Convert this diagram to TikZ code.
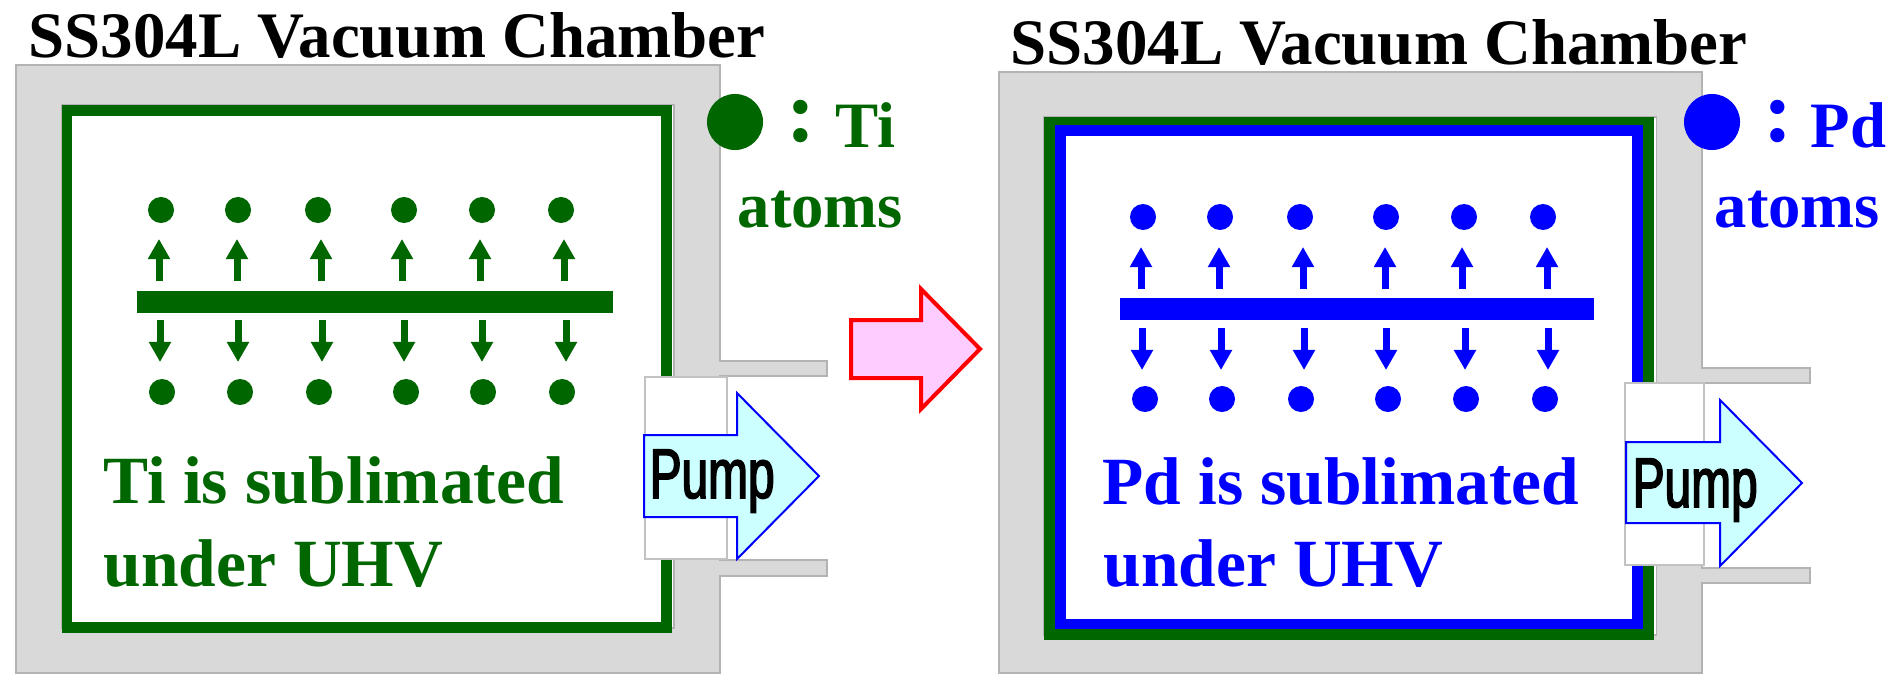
\documentclass[tikz,border=0pt]{standalone}
\usepackage{fontspec}
\usepackage{xcolor}
\usetikzlibrary{arrows.meta}
\setmainfont{Liberation Serif}
\newfontfamily\pumpfont[FakeStretch=0.68,FakeBold=2.2]{Liberation Sans}
\definecolor{tigreen}{HTML}{006600}
\definecolor{pdblue}{HTML}{0000FF}
\definecolor{wallgray}{HTML}{D9D9D9}
\definecolor{walledge}{HTML}{B3B3B3}
\definecolor{pumpcyan}{HTML}{CCFFFF}
\definecolor{stagepink}{HTML}{FFCCFF}
\tikzset{
	wall/.style={draw=walledge,fill=wallgray,line width=0.4pt},
	hole/.style={draw=walledge,fill=white,line width=0.3pt},
	port/.style={draw=walledge!80,fill=white,line width=0.4pt},
	atom/.style={circle,fill=#1,inner sep=0pt,minimum size=0.26cm},
	bigatom/.style={circle,fill=#1,inner sep=0pt,minimum size=0.56cm},
	flight/.style={#1,line width=0.07cm,-{Triangle[length=0.2cm,width=0.21cm]}},
	pumparrow/.style={draw=pdblue,fill=pumpcyan,line width=0.02cm},
	label/.style={anchor=base west,inner sep=0pt,font=\bfseries\fontsize{19.2}{19}\selectfont},
	titlelabel/.style={anchor=base west,inner sep=0pt,font=\bfseries\fontsize{18.45}{19}\selectfont},
	keylabel/.style={anchor=base west,inner sep=0pt,font=\bfseries\fontsize{18.4}{19}\selectfont},
	colonlabel/.style={anchor=base west,inner sep=0pt,font=\bfseries\fontsize{25}{25}\selectfont},
	pumplabel/.style={anchor=base west,inner sep=0pt,font=\pumpfont\fontsize{20}{20}\selectfont}
}
\begin{document}
\begin{tikzpicture}[x=0.01cm,y=-0.01cm]
		\useasboundingbox (0,0) rectangle (1895,673);

		% left chamber
		\draw[wall] (16,65) -- (720,65) -- (720,361) -- (827,361) -- (827,376) -- (720,376) -- (720,560) -- (827,560) -- (827,576) -- (720,576) -- (720,673) -- (16,673) -- cycle;
		\draw[hole] (62,105) rectangle (674,628);
		\fill[tigreen] (62,105) rectangle (672,633);
		\fill[white] (72,116) rectangle (661,622);
		\fill[tigreen] (137,291) rectangle (613,313);

		\foreach \i/\a/\b/\c/\d in {1/161/159/160/162,2/238/237/238/240,3/318/321/322/319,4/404/402/404/406,5/482/480/482/483,6/561/564/566/562}{
			\node[atom=tigreen] (titop\i) at (\a,210) {};
			\node[atom=tigreen] (tibot\i) at (\d,392) {};
			\coordinate (tiupa\i) at (\b,281);
			\coordinate (tiupb\i) at (\b,239);
			\coordinate (tidna\i) at (\c,320);
			\coordinate (tidnb\i) at (\c,362);
			\draw[flight=tigreen] (tiupa\i) -- (tiupb\i);
			\draw[flight=tigreen] (tidna\i) -- (tidnb\i);
		}

		\node[titlelabel] (titlea) at (28,58) {SS304L Vacuum Chamber};
		\node[label,tigreen] (subla) at (103,503) {Ti is sublimated};
		\node[label,tigreen] (uhva) at (103,586) {under UHV};
		\node[bigatom=tigreen] (keya) at (735,122) {};
		\node[colonlabel,tigreen] (cola) at (786,142) {:};
		\node[keylabel,tigreen] (tikey) at (835,147) {Ti};
		\node[keylabel,tigreen] (atomsa) at (737,227) {atoms};

		\draw[port] (645,377) rectangle (727,559);
		\draw[pumparrow] (644,435) -- (737,435) -- (737,393) -- (819,476) -- (737,559) -- (737,517) -- (644,517) -- cycle;
		\node[pumplabel] (pumpa) at (649,498) {Pump};

		% stage arrow
		\draw[draw=red,fill=stagepink,line width=0.04cm] (851,320) -- (921,320) -- (921,289) -- (980,349) -- (921,409) -- (921,378) -- (851,378) -- cycle;

		% right chamber
		\draw[wall] (999,72) -- (1702,72) -- (1702,368) -- (1810,368) -- (1810,383) -- (1702,383) -- (1702,568) -- (1810,568) -- (1810,583) -- (1702,583) -- (1702,673) -- (999,673) -- cycle;
		\draw[hole] (1044,117) rectangle (1656,635);
		\fill[tigreen] (1044,117) rectangle (1654,640);
		\fill[pdblue] (1055,125) rectangle (1643,629);
		\fill[white] (1066,136) rectangle (1632,619);
		\fill[pdblue] (1120,298) rectangle (1594,320);

		\foreach \i/\a/\b/\c/\d in {1/1143/1141/1142/1145,2/1220/1219/1221/1222,3/1300/1303/1304/1301,4/1386/1385/1386/1388,5/1464/1462/1465/1466,6/1543/1547/1548/1545}{
			\node[atom=pdblue] (pdtop\i) at (\a,217) {};
			\node[atom=pdblue] (pdbot\i) at (\d,399) {};
			\coordinate (pdupa\i) at (\b,289);
			\coordinate (pdupb\i) at (\b,247);
			\coordinate (pddna\i) at (\c,328);
			\coordinate (pddnb\i) at (\c,370);
			\draw[flight=pdblue] (pdupa\i) -- (pdupb\i);
			\draw[flight=pdblue] (pddna\i) -- (pddnb\i);
		}

		\node[titlelabel] (titleb) at (1010,65) {SS304L Vacuum Chamber};
		\node[label,pdblue] (sublb) at (1102,504) {Pd is sublimated};
		\node[label,pdblue] (uhvb) at (1103,586) {under UHV};
		\node[bigatom=pdblue] (keyb) at (1712,122) {};
		\node[colonlabel,pdblue] (colb) at (1763,142) {:};
		\node[keylabel,pdblue] (pdkey) at (1810,147) {Pd};
		\node[keylabel,pdblue] (atomsb) at (1714,227) {atoms};

		\draw[port] (1625,383) rectangle (1704,565);
		\draw[pumparrow] (1626,442) -- (1720,442) -- (1720,400) -- (1802,483) -- (1720,566) -- (1720,523) -- (1626,523) -- cycle;
		\node[pumplabel] (pumpb) at (1632,507) {Pump};
\end{tikzpicture}
\end{document}
